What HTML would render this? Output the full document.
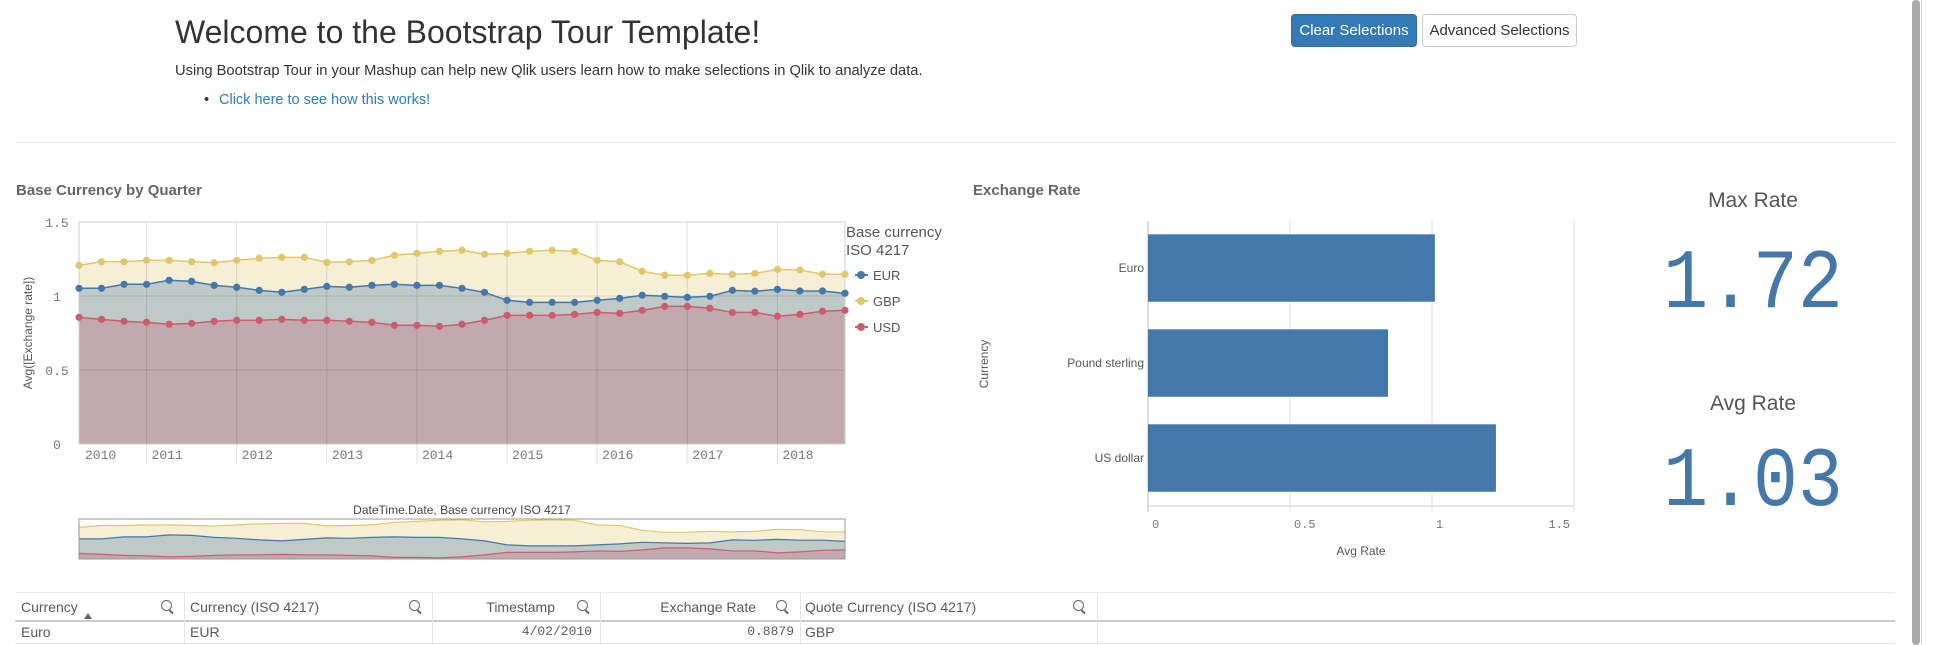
<!DOCTYPE html>
<html><head><meta charset="utf-8"><style>
body{margin:0;width:1933px;height:645px;overflow:hidden;background:#fff;font-family:"Liberation Sans",sans-serif;position:relative}
.a{position:absolute}
.btn{position:absolute;top:14px;height:33px;border-radius:4px;font-size:15px;display:flex;align-items:center;justify-content:center;box-sizing:border-box}
.th{position:absolute;top:593px;height:28px;line-height:28px;font-size:14px;color:#595959;font-family:"Liberation Sans Narrow","Liberation Sans",sans-serif}
.td{position:absolute;top:621px;height:22px;line-height:22px;font-size:14px;color:#595959;font-family:"Liberation Sans Narrow","Liberation Sans",sans-serif}
.q{position:absolute;top:600px;width:9px;height:9px;border:1.5px solid #666;border-radius:50%}
.q:after{content:"";position:absolute;width:5px;height:1.5px;background:#666;left:7px;top:10px;transform:rotate(45deg)}
</style></head><body>
<div class="a" style="left:175px;top:14px;font-size:32px;color:#333">Welcome to the Bootstrap Tour Template!</div>
<div class="a" style="left:175px;top:63px;font-size:14.7px;color:#333">Using Bootstrap Tour in your Mashup can help new Qlik users learn how to make selections in Qlik to analyze data.</div>
<div class="a" style="left:219px;top:92px;font-size:14.5px;color:#337ab7"><span style="position:absolute;left:-15px;color:#333">•</span>Click here to see how this works!</div>
<div class="btn" style="left:1291px;width:126px;background:#337ab7;border:1px solid #2e6da4;color:#fff">Clear Selections</div>
<div class="btn" style="left:1422px;width:155px;background:#fff;border:1px solid #ccc;color:#333">Advanced Selections</div>
<div class="a" style="left:15px;top:142px;width:1882px;height:1px;background:#e5e5e5"></div>
<div class="a" style="left:1912px;top:0;width:8px;height:645px;background:#aaa;border-radius:4px"></div>
<div class="a" style="left:1921px;top:0;width:1px;height:645px;background:#ddd"></div>

<div class="a" style="left:16px;top:182px;font-size:15px;font-weight:bold;color:#666;font-family:'Liberation Sans Narrow','Liberation Sans',sans-serif">Base Currency by Quarter</div>
<div class="a" style="left:973px;top:182px;font-size:15px;font-weight:bold;color:#666;font-family:'Liberation Sans Narrow','Liberation Sans',sans-serif">Exchange Rate</div>

<svg id="ch" class="a" style="left:0;top:0" width="1933" height="645"></svg>

<div class="a" style="left:1653px;width:200px;text-align:center;top:189px;font-size:21px;color:#555">Max Rate</div>
<div class="a" style="left:1603px;width:300px;text-align:center;top:236px;font-size:84px;line-height:100px;color:#4477aa;font-family:'Liberation Mono',monospace;transform:scaleX(0.89)">1.72</div>
<div class="a" style="left:1653px;width:200px;text-align:center;top:392px;font-size:21px;color:#555">Avg Rate</div>
<div class="a" style="left:1603px;width:300px;text-align:center;top:434px;font-size:84px;line-height:100px;color:#4477aa;font-family:'Liberation Mono',monospace;transform:scaleX(0.89)">1.03</div>

<div class="a" style="left:15px;top:592px;width:1880px;height:1px;background:#e8e8e8"></div>
<div class="a" style="left:15px;top:620px;width:1880px;height:2px;background:#ccc"></div>
<div class="a" style="left:15px;top:643px;width:1880px;height:1px;background:#e8e8e8"></div>
<div class="a" style="left:184px;top:593px;width:1px;height:52px;background:#e5e5e5"></div>
<div class="a" style="left:432px;top:593px;width:1px;height:52px;background:#e5e5e5"></div>
<div class="a" style="left:600px;top:593px;width:1px;height:52px;background:#e5e5e5"></div>
<div class="a" style="left:800px;top:593px;width:1px;height:52px;background:#e5e5e5"></div>
<div class="a" style="left:1097px;top:593px;width:1px;height:52px;background:#e5e5e5"></div>
<div class="th" style="left:21px">Currency</div>
<div class="a" style="left:84px;top:613px;width:0;height:0;border-left:4px solid transparent;border-right:4px solid transparent;border-bottom:6px solid #666"></div>
<div class="th" style="left:190px">Currency (ISO 4217)</div>
<div class="th" style="left:440px;width:115px;text-align:right">Timestamp</div>
<div class="th" style="left:610px;width:146px;text-align:right">Exchange Rate</div>
<div class="th" style="left:805px">Quote Currency (ISO 4217)</div>
<div class="q" style="left:161px"></div>
<div class="q" style="left:409px"></div>
<div class="q" style="left:577px"></div>
<div class="q" style="left:776px"></div>
<div class="q" style="left:1073px"></div>
<div class="td" style="left:21px">Euro</div>
<div class="td" style="left:190px">EUR</div>
<div class="td" style="left:440px;width:152px;text-align:right;font-family:'Liberation Mono',monospace;font-size:13px">4/02/2010</div>
<div class="td" style="left:610px;width:184px;text-align:right;font-family:'Liberation Mono',monospace;font-size:13px">0.8879</div>
<div class="td" style="left:805px">GBP</div>

<script>
const years=["2010","2011","2012","2013","2014","2015","2016","2017","2018"];
const gbp=[1.207,1.232,1.232,1.241,1.241,1.232,1.225,1.241,1.255,1.261,1.261,1.227,1.232,1.241,1.275,1.288,1.302,1.309,1.282,1.288,1.302,1.309,1.302,1.241,1.232,1.167,1.14,1.14,1.153,1.146,1.153,1.18,1.176,1.147,1.147];
const eur=[1.052,1.052,1.079,1.079,1.106,1.099,1.072,1.059,1.038,1.025,1.045,1.065,1.059,1.072,1.079,1.072,1.072,1.052,1.025,0.971,0.957,0.957,0.957,0.971,0.984,1.005,0.998,0.991,0.998,1.038,1.032,1.045,1.034,1.034,1.018];
const usd=[0.856,0.842,0.829,0.822,0.809,0.815,0.829,0.836,0.836,0.842,0.836,0.836,0.829,0.822,0.802,0.802,0.795,0.809,0.836,0.869,0.869,0.869,0.876,0.889,0.883,0.903,0.930,0.930,0.917,0.889,0.889,0.863,0.876,0.897,0.903];
const yTicks=[0,0.5,1,1.5];
const barCats=["Euro","Pound sterling","US dollar"];
const barVals=[1.01,0.845,1.225];
const xTicks=[0,0.5,1,1.5];

const S=document.getElementById('ch');const NS="http://www.w3.org/2000/svg";
function mk(t,a,txt){const e=document.createElementNS(NS,t);for(const k in a)e.setAttribute(k,a[k]);if(txt!=null)e.textContent=txt;S.appendChild(e);return e;}
const L=79,R=845,T=222,B=444,startQ=1;
const n=gbp.length,step=(R-L)/(n-1);
const x=i=>L+i*step; const y=v=>B-(B-T)*v/1.5;
function area(vals,fill,sx,sy,b){let d=`M${sx(0)},${b}`;vals.forEach((v,i)=>d+=`L${sx(i)},${sy(v)}`);d+=`L${sx(vals.length-1)},${b}Z`;return d;}
function line(vals,sx,sy){return vals.map((v,i)=>(i?'L':'M')+sx(i)+','+sy(v)).join('');}
const series=[[gbp,'#f5efd6','#e0c86a','gbp'],[eur,'#bfcac8','#4477aa','eur'],[usd,'#c2a9ad','#cc5d6f','usd']];
series.forEach(s=>{const e=mk('path',{d:area(s[0],0,x,y,B),fill:s[1]});});
yTicks.forEach(t=>{if(t>0&&t<1.5){const g=mk('line',{x1:L,x2:R,y1:y(t),y2:y(t),stroke:'#000','stroke-opacity':0.12});}
 const tl=mk('text',{x:L-22,y:y(t)+5,'font-size':13,fill:'#777','font-family':'Liberation Mono,monospace','text-anchor':'middle'},String(t));
 });
years.forEach((yr,k)=>{const qi=k*4-startQ;const xx=qi<0?null:x(qi);
 if(xx!=null){const g=mk('line',{x1:xx,x2:xx,y1:T,y2:B+20,stroke:'#000','stroke-opacity':0.12});}
 const lx=xx==null?L+6:xx+5;const t=mk('text',{x:lx,y:B+15,'font-size':13,fill:'#777','font-family':'Liberation Mono,monospace'},yr);});
mk('rect',{x:L,y:T,width:R-L,height:B-T,fill:'none',stroke:'#ccc'});
series.forEach(s=>{const p=mk('path',{d:line(s[0],x,y),fill:'none',stroke:s[2],'stroke-width':1.5});
 s[0].forEach((v,i)=>{const c=mk('circle',{cx:x(i),cy:y(v),r:3.6,fill:s[2]});});});
const yt=mk('text',{x:0,y:0,transform:'translate(32,333) rotate(-90)','text-anchor':'middle','font-size':12,fill:'#555'},'Avg([Exchange rate])');
let lt=mk('text',{x:846,y:237,'font-size':15,fill:'#555'},'Base currency');
lt=mk('text',{x:846,y:255,'font-size':15,fill:'#555'},'ISO 4217');
[['EUR','#4477aa',275],['GBP','#e0c86a',301],['USD','#cc5d6f',327]].forEach(l=>{const g=mk('g',{});
 const ln=mk('line',{x1:855,x2:868,y1:l[2],y2:l[2],stroke:l[1],'stroke-width':2});g.appendChild(ln);const c=mk('circle',{cx:861,cy:l[2],r:4,fill:l[1]});g.appendChild(c);
 const t=mk('text',{x:873,y:l[2]+5,'font-size':13,fill:'#555'},l[0]);g.appendChild(t);});
const mT=519,mB=559,mlo=0.78,mhi=1.32;const my=v=>mB-(mB-mT)*(v-mlo)/(mhi-mlo);
let mt=mk('text',{x:462,y:514,'text-anchor':'middle','font-size':12,fill:'#444','font-family':'Liberation Sans Narrow,Liberation Sans,sans-serif'},'DateTime.Date,  Base currency ISO 4217');
series.forEach(s=>{const e=mk('path',{d:area(s[0],0,x,my,mB),fill:s[1]});
 const p=mk('path',{d:line(s[0],x,my),fill:'none',stroke:s[2],'stroke-width':1.2});});
const mf=mk('rect',{x:L,y:mT,width:R-L,height:mB-mT,fill:'none',stroke:'#999'});
const bL=1148,bR=1574,bT=221,bB=506;const bx=v=>bL+(bR-bL)*v/1.5;
xTicks.forEach(t=>{const g=mk('line',{x1:bx(t),x2:bx(t),y1:bT,y2:bB+6,stroke:t===0?'#bbb':'#e0e0e0'});
 const tl=mk('text',{x:bx(t)+(t===1.5?-4:4),y:bB+22,'text-anchor':t===1.5?'end':'start','font-size':12,fill:'#777','font-family':'Liberation Mono,monospace'},String(t));});
mk('line',{x1:bL,x2:bR,y1:bB,y2:bB,stroke:'#ccc'});
const band=(bB-bT)/barCats.length;
barCats.forEach((c,i)=>{const yy=bT+band*i+band*0.14,h=band*0.71;
 const r=mk('rect',{x:bL,y:yy,width:bx(barVals[i])-bL,height:h,fill:'#4477aa'});
 const t=mk('text',{x:bL-4,y:yy+h/2+4,'text-anchor':'end','font-size':12,fill:'#555'},c);});
let bt=mk('text',{x:0,y:0,transform:'translate(988,364) rotate(-90)','text-anchor':'middle','font-size':12,fill:'#555'},'Currency');
bt=mk('text',{x:1361,y:555,'text-anchor':'middle','font-size':12,fill:'#555'},'Avg Rate');
</script>
</body></html>
